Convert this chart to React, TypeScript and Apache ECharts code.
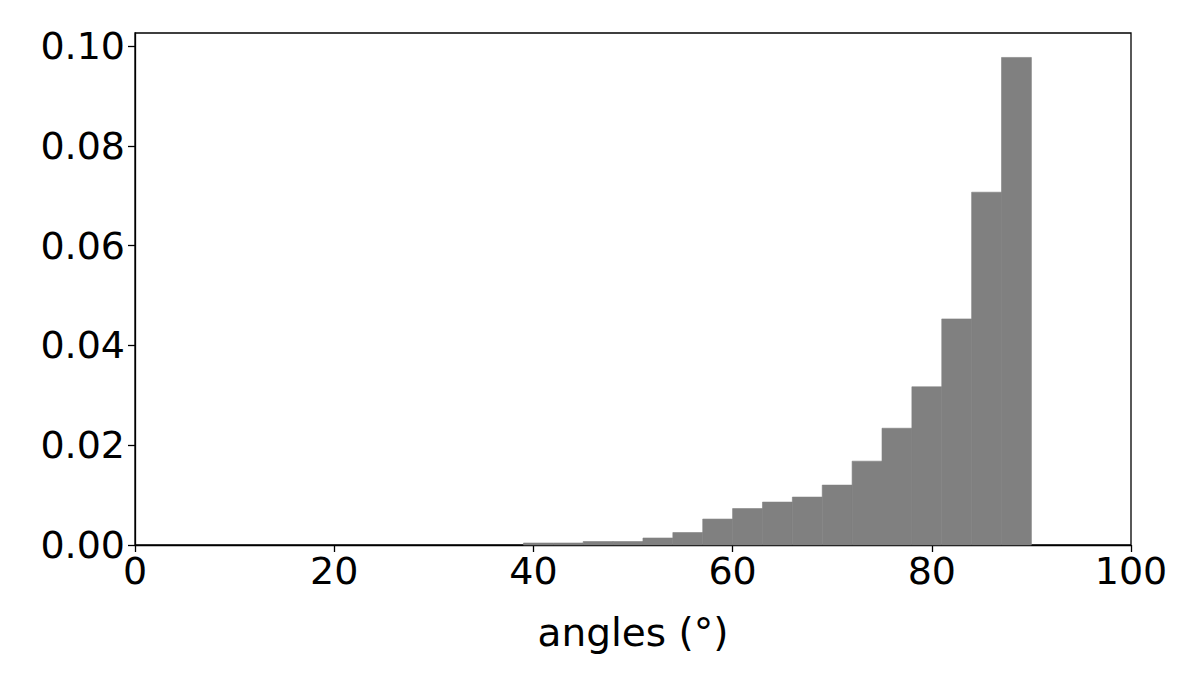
import React, { useEffect, useRef } from "react";
import * as echarts from "echarts";

// Histogram bins (left edge, degrees) and density heights
const binLefts = [39, 42, 45, 48, 51, 54, 57, 60, 63, 66, 69, 72, 75, 78, 81, 84, 87];
const binWidth = 3;
const densities = [
  0.0004, 0.0004, 0.0007, 0.0007, 0.0014, 0.0025, 0.0052, 0.0073, 0.0086,
  0.0096, 0.0120, 0.0168, 0.0234, 0.0317, 0.0453, 0.0707, 0.0977,
];
const xTicks = [0, 20, 40, 60, 80, 100];
const yTicks = [0, 0.02, 0.04, 0.06, 0.08, 0.1];
const xLabel = "angles (°)";

export default function App() {
  const ref = useRef<HTMLDivElement>(null);
  useEffect(() => {
    if (!ref.current) return;
    const chart = echarts.init(ref.current, undefined, { renderer: "svg" });
    const font = "DejaVu Sans";
    const data = binLefts.map((l, i) => [l, l + binWidth, densities[i]]);
    chart.setOption({
      animation: false,
      backgroundColor: "#ffffff",
      grid: {
        left: 135,
        right: 65,
        top: 33,
        bottom: 139,
        show: true,
        borderColor: "#000000",
        borderWidth: 1.3,
        backgroundColor: "transparent",
      },
      xAxis: {
        type: "value",
        min: xTicks[0],
        max: xTicks[xTicks.length - 1],
        interval: 20,
        name: xLabel,
        nameLocation: "middle",
        nameGap: 68,
        nameTextStyle: { fontFamily: font, fontSize: 39, color: "#000" },
        axisLine: { show: true, onZero: false, lineStyle: { color: "#000", width: 1.3 } },
        axisTick: { show: true, inside: false, length: 7, lineStyle: { color: "#000", width: 1.3 } },
        axisLabel: { fontFamily: font, fontSize: 38, color: "#000", margin: 7 },
        splitLine: { show: false },
      },
      yAxis: {
        type: "value",
        min: yTicks[0],
        max: 0.1026,
        interval: 0.02,
        axisLine: { show: true, onZero: false, lineStyle: { color: "#000", width: 1.3 } },
        axisTick: { show: true, inside: false, length: 7, lineStyle: { color: "#000", width: 1.3 } },
        axisLabel: {
          fontFamily: font,
          fontSize: 38,
          color: "#000",
          margin: 10,
          showMaxLabel: false,
          formatter: (v: number) => v.toFixed(2),
        },
        splitLine: { show: false },
      },
      series: [
        {
          type: "custom",
          data,
          encode: { x: [0, 1], y: 2 },
          renderItem: (params: any, api: any) => {
            const x0 = api.value(0);
            const x1 = api.value(1);
            const h = api.value(2);
            const p0 = api.coord([x0, h]);
            const p1 = api.coord([x1, 0]);
            return {
              type: "rect",
              shape: { x: p0[0], y: p0[1], width: p1[0] - p0[0], height: p1[1] - p0[1] },
              style: { fill: "#808080", stroke: "#808080", lineWidth: 0.6 },
            };
          },
        },
      ],
    });
    return () => chart.dispose();
  }, []);
  return (
    <div
      ref={ref}
      style={{ position: "fixed", left: 0, top: 0, width: 1196, height: 684 }}
    />
  );
}
